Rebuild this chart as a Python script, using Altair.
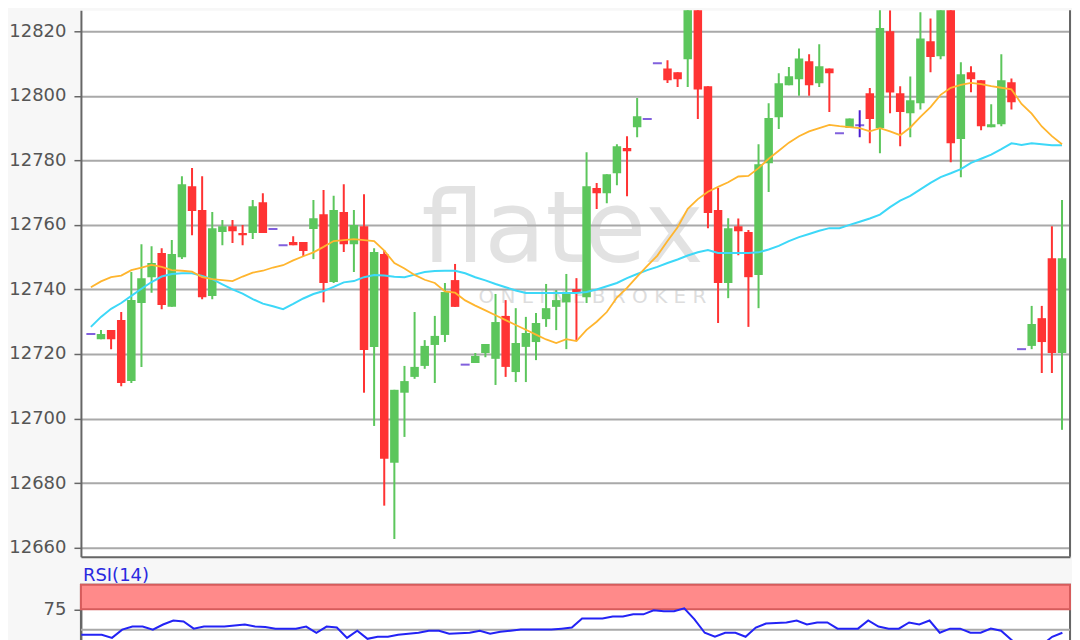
import altair as alt
import pandas as pd

# ---------------- data ----------------
opens = [12726.2, 12724.6, 12727.4, 12730.5, 12711.6, 12735.8, 12743.8, 12751.3, 12734.6, 12750.0,
         12772.0, 12764.6, 12738.0, 12757.8, 12759.6, 12757.5, 12757.5, 12767.0, 12758.7, 12753.7,
         12754.7, 12754.7, 12758.7, 12763.3, 12742.3, 12764.0, 12754.0, 12759.6, 12722.2, 12751.0,
         12686.3, 12708.0, 12712.9, 12716.3, 12722.8, 12725.9, 12742.9, 12716.7, 12717.2, 12720.3,
         12718.5, 12731.8, 12714.4, 12722.2, 12723.7, 12730.8, 12734.6, 12736.0, 12740.1, 12737.6,
         12771.4, 12769.8, 12776.0, 12783.8, 12790.3, 12792.8, 12810.1, 12808.5, 12807.3, 12811.3,
         12838.0, 12803.0, 12764.6, 12742.0, 12759.6, 12757.8, 12744.5, 12779.1, 12793.4, 12803.3,
         12805.1, 12810.7, 12803.9, 12808.5, 12788.4, 12790.0, 12790.9, 12800.8, 12790.0, 12820.0,
         12800.8, 12794.6, 12797.7, 12816.9, 12812.3, 12840.0, 12786.6, 12807.3, 12804.8, 12790.3,
         12791.2, 12804.2, 12721.5, 12722.5, 12731.1, 12749.7, 12720.3]
highs = [12726.2, 12727.4, 12727.4, 12733.0, 12745.4, 12754.0, 12753.4, 12752.8, 12755.3, 12775.1,
         12777.6, 12775.1, 12764.0, 12761.5, 12761.5, 12760.0, 12767.7, 12769.8, 12758.7, 12753.7,
         12756.5, 12754.7, 12767.7, 12770.8, 12769.0, 12772.6, 12764.6, 12769.5, 12752.8, 12752.2,
         12708.9, 12716.3, 12733.0, 12724.3, 12731.8, 12742.0, 12747.9, 12716.7, 12720.3, 12723.1,
         12738.6, 12736.7, 12734.2, 12731.5, 12732.7, 12741.7, 12739.8, 12744.8, 12743.5, 12782.5,
         12773.0, 12775.7, 12785.0, 12787.5, 12799.3, 12792.8, 12810.1, 12811.0, 12807.3, 12840.0,
         12842.0, 12803.0, 12771.4, 12762.1, 12762.0, 12758.4, 12785.0, 12797.7, 12807.0, 12808.9,
         12814.7, 12812.9, 12816.0, 12808.5, 12788.4, 12793.0, 12795.5, 12802.4, 12832.0, 12826.5,
         12803.0, 12806.0, 12825.9, 12824.0, 12838.0, 12842.0, 12810.4, 12809.2, 12804.8, 12797.4,
         12812.9, 12805.4, 12721.5, 12734.9, 12734.9, 12759.6, 12767.7]
lows = [12726.2, 12724.6, 12721.5, 12710.0, 12711.0, 12716.0, 12739.0, 12733.9, 12734.6, 12749.4,
        12756.8, 12737.0, 12737.0, 12753.7, 12754.4, 12753.7, 12755.6, 12757.5, 12758.7, 12753.7,
        12753.7, 12750.3, 12749.4, 12736.0, 12742.0, 12751.6, 12745.4, 12708.0, 12697.7, 12673.0,
        12662.7, 12694.3, 12712.3, 12715.4, 12711.0, 12723.7, 12734.6, 12716.7, 12717.2, 12719.0,
        12710.4, 12712.9, 12711.3, 12711.3, 12718.1, 12728.4, 12727.4, 12721.5, 12724.0, 12735.8,
        12764.9, 12766.7, 12772.3, 12768.9, 12787.2, 12792.8, 12810.1, 12804.0, 12802.7, 12802.7,
        12792.8, 12759.0, 12729.6, 12737.3, 12750.6, 12728.4, 12734.2, 12770.2, 12789.7, 12803.3,
        12800.0, 12800.0, 12802.7, 12795.0, 12788.4, 12790.0, 12787.2, 12785.3, 12782.2, 12794.6,
        12784.4, 12787.2, 12795.8, 12807.3, 12811.3, 12779.4, 12774.8, 12801.1, 12789.3, 12790.3,
        12790.6, 12795.8, 12721.5, 12721.5, 12714.1, 12714.1, 12696.5]
closes = [12726.2, 12726.2, 12724.6, 12711.0, 12736.7, 12743.5, 12748.2, 12735.2, 12751.0, 12772.6,
          12764.3, 12737.6, 12759.0, 12759.6, 12758.0, 12756.8, 12765.8, 12757.5, 12758.7, 12753.7,
          12753.7, 12751.9, 12762.1, 12742.0, 12764.6, 12754.0, 12760.0, 12721.2, 12751.6, 12687.5,
          12708.9, 12711.6, 12716.0, 12722.5, 12725.6, 12739.2, 12734.6, 12716.7, 12719.4, 12723.1,
          12729.9, 12716.0, 12723.4, 12726.5, 12729.6, 12734.2, 12736.7, 12738.9, 12738.9, 12772.0,
          12769.8, 12775.7, 12784.4, 12782.8, 12793.7, 12792.8, 12810.1, 12804.8, 12805.1, 12836.0,
          12802.0, 12763.7, 12742.0, 12759.0, 12758.0, 12743.8, 12778.8, 12793.1, 12803.9, 12806.1,
          12811.6, 12803.3, 12809.2, 12807.0, 12788.4, 12793.0, 12790.9, 12792.8, 12821.0, 12801.0,
          12795.0, 12798.6, 12817.8, 12812.0, 12834.0, 12785.3, 12806.7, 12805.1, 12790.6, 12791.2,
          12804.8, 12798.0, 12721.5, 12729.3, 12723.7, 12720.3, 12749.7]
ma_fast = [12740.7, 12742.5, 12743.8, 12744.3, 12746.0, 12746.8, 12747.6, 12747.0, 12746.0, 12745.8,
           12745.5, 12743.8, 12743.2, 12742.9, 12742.6, 12744.0, 12745.2, 12745.8, 12746.8, 12747.5,
           12749.0, 12750.3, 12751.5, 12753.2, 12755.0, 12755.3, 12755.6, 12755.3, 12755.0, 12752.0,
           12748.2, 12746.5, 12744.5, 12743.0, 12742.0, 12739.4, 12739.0, 12736.6, 12735.0, 12733.5,
           12732.0, 12730.5, 12729.0, 12727.5, 12726.0, 12724.5, 12723.4, 12724.6, 12724.0, 12727.5,
           12730.0, 12733.0, 12737.5, 12740.5, 12744.0, 12747.3, 12750.5, 12755.0, 12759.3, 12765.0,
           12768.0, 12770.3, 12771.8, 12773.2, 12775.0, 12775.2, 12777.6, 12780.5, 12783.0, 12785.5,
           12787.5, 12789.0, 12790.0, 12791.0, 12790.6, 12790.3, 12790.0, 12789.0, 12790.0, 12789.0,
           12787.8, 12790.2, 12793.5, 12796.5, 12800.3, 12802.5, 12803.4, 12804.0, 12803.6, 12803.0,
           12802.5, 12802.0, 12797.5, 12794.5, 12790.5, 12787.5, 12785.0]
ma_slow = [12728.4, 12731.5, 12734.0, 12735.8, 12738.0, 12740.2, 12742.3, 12744.0, 12744.8, 12745.0,
           12745.0, 12744.2, 12743.2, 12741.6, 12740.0, 12738.7, 12737.0, 12735.6, 12734.8, 12733.9,
           12735.5, 12737.2, 12738.6, 12739.5, 12740.8, 12742.2, 12742.6, 12743.8, 12744.5, 12744.3,
           12743.9, 12743.8, 12744.6, 12745.4, 12745.7, 12745.8, 12745.8, 12745.0, 12743.8, 12742.8,
           12741.7, 12740.7, 12739.7, 12738.9, 12738.9, 12738.9, 12738.9, 12738.9, 12738.9, 12739.2,
           12740.0, 12741.0, 12742.0, 12743.5, 12744.8, 12746.0, 12747.0, 12748.2, 12749.3, 12750.5,
           12751.5, 12752.2, 12751.3, 12751.3, 12751.3, 12751.3, 12751.5, 12752.4, 12753.5, 12755.0,
           12756.2, 12757.2, 12758.2, 12759.0, 12759.0, 12760.0, 12761.0, 12762.0, 12763.2, 12765.5,
           12767.5, 12769.0, 12771.0, 12773.0, 12774.8, 12776.0, 12777.3, 12779.2, 12780.5, 12781.8,
           12783.5, 12785.3, 12784.8, 12785.3, 12785.0, 12784.7, 12784.7]
rsi = [49.0, 49.0, 49.0, 45.8, 54.2, 57.3, 57.3, 54.2, 59.4, 63.5,
       62.5, 55.2, 57.3, 57.3, 57.3, 58.3, 59.4, 57.3, 56.8, 55.2,
       55.2, 55.2, 57.3, 51.0, 57.3, 56.3, 45.8, 53.1, 44.8, 46.9,
       46.9, 49.0, 50.0, 51.0, 53.1, 53.1, 50.0, 50.5, 51.0, 53.1,
       50.0, 52.1, 53.1, 54.2, 54.2, 54.2, 54.2, 55.2, 56.3, 65.6,
       65.6, 65.6, 67.7, 67.7, 69.8, 69.8, 74.0, 72.9, 72.9, 76.0,
       64.6, 51.0, 46.9, 51.0, 51.0, 46.9, 56.3, 60.4, 61.0, 61.5,
       63.5, 59.4, 61.5, 61.5, 55.2, 55.2, 55.2, 63.5, 57.3, 55.2,
       55.2, 61.5, 59.4, 63.5, 51.0, 55.2, 55.2, 51.0, 51.0, 55.2,
       53.1, 43.8, 35.4, 33.3, 38.5, 46.9, 51.0]

price_ticks = [12660, 12680, 12700, 12720, 12740, 12760, 12780, 12800, 12820]
rsi_ticks = [75]
rsi_band = [75, 100]
rsi_mid = [54]
rsi_label = "RSI(14)"
logo_text = "flatex"
logo_sub = "O  N  L  I  N  E     B  R  O  K  E  R"

# ---------------- styling ----------------
GREEN = "#5cc65c"
RED = "#ff3333"
DOJI = "#4b1ccf"
ORANGE = "#ffb52e"
CYAN = "#3dd8f8"
AXC = "#666666"
GRID = "#a9a9a9"
FONT = "DejaVu Sans"
W = 990
H_MAIN = 547
H_RSI = 98

n = len(opens)
df = pd.DataFrame({
    "idx": list(range(n)), "open": opens, "high": highs, "low": lows, "close": closes,
    "ma_fast": ma_fast, "ma_slow": ma_slow, "rsi": rsi,
})
df["dir"] = ["up" if c > o else ("down" if c < o else "flat") for o, c in zip(opens, closes)]

xscale = alt.Scale(domain=[-0.4888, 96.295], nice=False, zero=False)
yscale = alt.Scale(domain=[12657.15, 12826.5], nice=False, zero=False)
xaxis = alt.Axis(labels=False, ticks=False, grid=False, title=None,
                 domainColor=AXC, domainWidth=2)
yaxis = alt.Axis(values=price_ticks, grid=True, gridColor=GRID, gridWidth=2, title=None,
                 labelFont=FONT, labelFontSize=18, labelColor="#555555", labelPadding=8,
                 tickSize=7, tickColor=AXC, tickWidth=1.5, domainColor=AXC, domainWidth=2,
                 format="d")

X = alt.X("idx:Q", scale=xscale, axis=xaxis)


def Y(field):
    return alt.Y(f"{field}:Q", scale=yscale, axis=yaxis)


color = alt.Color("dir:N", scale=alt.Scale(domain=["up", "down", "flat"],
                                           range=[GREEN, RED, DOJI]), legend=None)

base = alt.Chart(df)
one = pd.DataFrame({"t": [logo_text], "s": [logo_sub]})

logo = alt.Chart(one).mark_text(font=FONT, fontSize=100, color="#b0b0b0", opacity=0.36,
                                align="center", baseline="alphabetic").encode(
    text="t:N", x=alt.value(482), y=alt.value(252))
logo2 = alt.Chart(one).mark_text(font=FONT, fontSize=20, color="#b0b0b0", opacity=0.42,
                                 align="center", baseline="alphabetic").encode(
    text="s:N", x=alt.value(512), y=alt.value(293))

wicks = base.mark_rule(strokeWidth=2, clip=True).encode(
    x=X, y=Y("low"), y2="high:Q", color=color)
bodies = base.transform_filter("datum.dir != 'flat'").mark_bar(size=8.5, clip=True).encode(
    x=X, y=Y("open"), y2="close:Q", color=color)
dojis = base.transform_filter("datum.dir == 'flat'").mark_tick(
    orient="horizontal", size=9, thickness=2, color=DOJI, clip=True).encode(x=X, y=Y("close"))
ma1 = base.mark_line(color=CYAN, strokeWidth=2, clip=True).encode(x=X, y=Y("ma_slow"))
ma2 = base.mark_line(color=ORANGE, strokeWidth=1.8, clip=True).encode(x=X, y=Y("ma_fast"))
border = alt.Chart(one).mark_rule(color=AXC, strokeWidth=2).encode(
    x=alt.value(W), y=alt.value(0), y2=alt.value(H_MAIN))

main = alt.layer(logo, logo2, wicks, bodies, dojis, ma1, ma2, border).properties(
    width=W, height=H_MAIN, view=alt.ViewBackground(fill="white", stroke="transparent"))

# ---------------- RSI panel ----------------
rx = alt.X("idx:Q", scale=alt.Scale(domain=[-0.0388, 96.745], nice=False, zero=False), axis=None)
ry_scale = alt.Scale(domain=[0, 100], nice=False, zero=False)
ryaxis = alt.Axis(values=rsi_ticks, grid=False, title=None, labelFont=FONT, labelFontSize=18,
                  labelColor="#555555", labelPadding=8, tickSize=7, tickColor=AXC,
                  tickWidth=1.5, domainColor=AXC, domainWidth=2, format="d")

band_df = pd.DataFrame({"lo": [rsi_band[0]], "hi": [rsi_band[1]]})
band = alt.Chart(band_df).mark_rect(fill="#ff8a8a", stroke="#d65c5c", strokeWidth=2).encode(
    x=alt.value(0), x2=alt.value(W),
    y=alt.Y("lo:Q", scale=ry_scale, axis=ryaxis), y2="hi:Q")
mid = alt.Chart(pd.DataFrame({"m": rsi_mid})).mark_rule(color=GRID, strokeWidth=2).encode(
    y=alt.Y("m:Q", scale=ry_scale, axis=ryaxis))
rline = base.mark_line(color="#2323f5", strokeWidth=2, clip=True).encode(
    x=rx, y=alt.Y("rsi:Q", scale=ry_scale, axis=ryaxis))
rlabel = alt.Chart(pd.DataFrame({"t": [rsi_label]})).mark_text(
    font=FONT, fontSize=18, color="#2a2ae0", align="left", baseline="alphabetic").encode(
    text="t:N", x=alt.value(2), y=alt.value(-4))

rsi_chart = alt.layer(band, mid, rline, rlabel).properties(
    width=W, height=H_RSI,
    view=alt.ViewBackground(fill="white", stroke=AXC, strokeWidth=2))

chart = alt.vconcat(main, rsi_chart, spacing=28, bounds="flush").resolve_scale(
    x="independent", y="independent", color="independent").properties(
    background="#f7f7f7", padding=0)

chart.save("out.html", embed_options={"renderer": "svg", "actions": False})
